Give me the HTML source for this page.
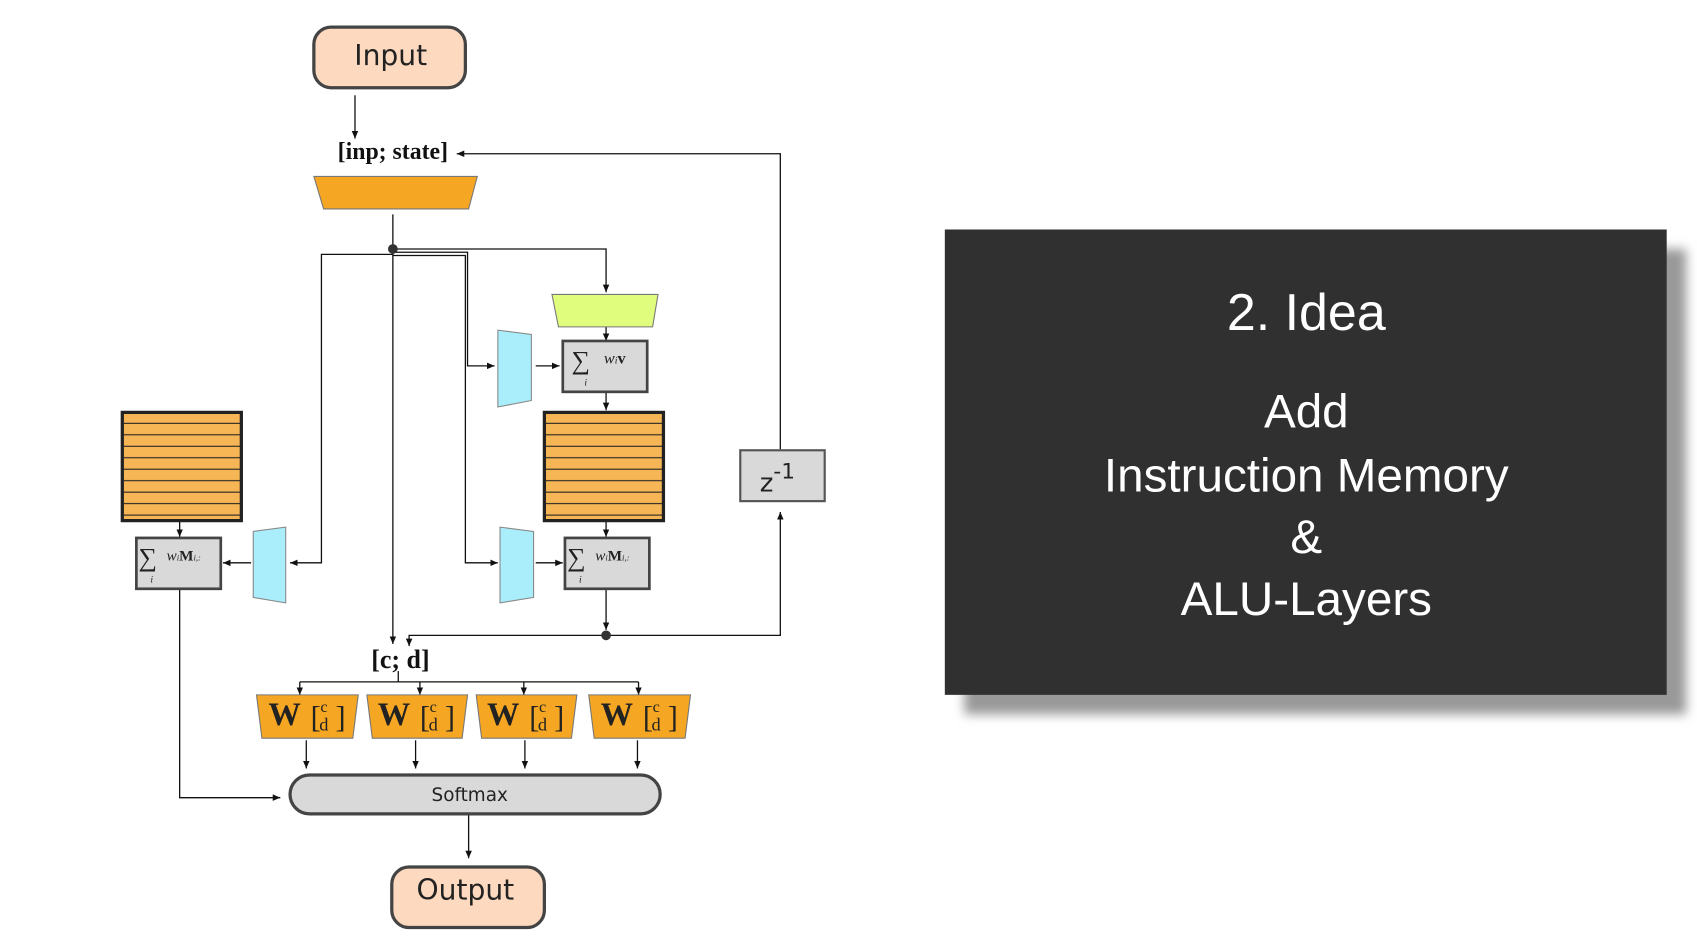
<!DOCTYPE html>
<html><head><meta charset="utf-8"><style>html,body{margin:0;padding:0;background:#fff;overflow:hidden}</style></head>
<body>
<svg width="1697" height="946" viewBox="0 0 1568 874" xmlns="http://www.w3.org/2000/svg">
<defs>
<marker id="a" markerWidth="8" markerHeight="8" refX="7" refY="4" orient="auto" markerUnits="userSpaceOnUse"><path d="M0,1 L7,4 L0,7 Z" fill="#111"/></marker>
<filter id="sh" x="-10%" y="-10%" width="130%" height="130%"><feGaussianBlur stdDeviation="5"/></filter>
<pattern id="st" width="10" height="10.6" patternUnits="userSpaceOnUse" y="381"><rect width="10" height="10.6" fill="#f7b655"/><rect y="9.6" width="10" height="1" fill="#222"/></pattern>
</defs>
<g stroke="#111" stroke-width="1.2" fill="none">
<line x1="328" y1="88" x2="328" y2="128" marker-end="url(#a)"/>
<polyline points="721,415 721,142 422,142" marker-end="url(#a)"/>
<line x1="363" y1="198" x2="363" y2="595" marker-end="url(#a)"/>
<polyline points="363,235 297,235 297,520 268,520" marker-end="url(#a)"/>
<polyline points="363,233 432,233 432,338 457,338" marker-end="url(#a)"/>
<polyline points="363,236 430,236 430,520 460,520" marker-end="url(#a)"/>
<polyline points="363,230 560,230 560,270" marker-end="url(#a)"/>
<line x1="560" y1="302" x2="560" y2="315" marker-end="url(#a)"/>
<line x1="495" y1="338" x2="517" y2="338" marker-end="url(#a)"/>
<line x1="560" y1="362" x2="560" y2="379" marker-end="url(#a)"/>
<line x1="560" y1="481" x2="560" y2="496" marker-end="url(#a)"/>
<line x1="166" y1="481" x2="166" y2="496" marker-end="url(#a)"/>
<line x1="232" y1="520" x2="206" y2="520" marker-end="url(#a)"/>
<line x1="495" y1="520" x2="520" y2="520" marker-end="url(#a)"/>
<line x1="560" y1="544" x2="560" y2="582" marker-end="url(#a)"/>
<polyline points="560,587 378,587 378,597" marker-end="url(#a)"/>
<polyline points="560,587 721,587 721,473" marker-end="url(#a)"/>
<polyline points="368,620 368,630"/>
<line x1="277" y1="630" x2="590" y2="630"/>
<line x1="277" y1="630" x2="277" y2="642" marker-end="url(#a)"/>
<line x1="388" y1="630" x2="388" y2="642" marker-end="url(#a)"/>
<line x1="484" y1="630" x2="484" y2="642" marker-end="url(#a)"/>
<line x1="590" y1="630" x2="590" y2="642" marker-end="url(#a)"/>
<line x1="283" y1="684" x2="283" y2="710" marker-end="url(#a)"/>
<line x1="384" y1="684" x2="384" y2="710" marker-end="url(#a)"/>
<line x1="485" y1="684" x2="485" y2="710" marker-end="url(#a)"/>
<line x1="589" y1="684" x2="589" y2="710" marker-end="url(#a)"/>
<polyline points="166,544 166,737 259,737" marker-end="url(#a)"/>
<line x1="433" y1="752" x2="433" y2="793" marker-end="url(#a)"/>
</g>
<circle cx="363" cy="230" r="4.5" fill="#333"/>
<circle cx="560" cy="587" r="4.5" fill="#333"/>
<rect x="290" y="25" width="140" height="56" rx="16" fill="#fdd9bf" stroke="#444" stroke-width="3"/>
<text x="361" y="60" font-family="DejaVu Sans, sans-serif" font-size="26" text-anchor="middle" fill="#222">Input</text>
<text x="363" y="147" font-family="Liberation Serif, serif" font-size="22" font-weight="bold" text-anchor="middle" fill="#111">[inp; state]</text>
<polygon points="290,163 441,163 433,193 299,193" fill="#f5a623" stroke="#777" stroke-width="1"/>
<polygon points="510,272 608,272 603,302 516,302" fill="#e1fd7d" stroke="#777" stroke-width="1"/>
<polygon points="460,305 491,309 491,370 460,376" fill="#aaeefc" stroke="#888" stroke-width="1"/>
<polygon points="234,491 264,487 264,557 234,552" fill="#aaeefc" stroke="#888" stroke-width="1"/>
<polygon points="462,487 493,491 493,552 462,557" fill="#aaeefc" stroke="#888" stroke-width="1"/>
<rect x="520" y="315" width="78" height="47" fill="#d9d9d9" stroke="#444" stroke-width="2.5"/>
<rect x="126" y="497" width="78" height="47" fill="#d9d9d9" stroke="#444" stroke-width="2.5"/>
<rect x="522" y="497" width="78" height="47" fill="#d9d9d9" stroke="#444" stroke-width="2.5"/>
<g font-family="Liberation Serif, serif" fill="#222">
<text x="528" y="341" font-size="24">∑</text><text x="540" y="356" font-size="9" font-style="italic">i</text><text x="558" y="336" font-size="15"><tspan font-style="italic">w</tspan><tspan font-size="9" font-style="italic">i</tspan><tspan font-weight="bold">v</tspan></text>
<text x="128" y="523" font-size="24">∑</text><text x="139" y="538" font-size="9" font-style="italic">i</text><text x="154" y="518" font-size="14"><tspan font-style="italic">w</tspan><tspan font-size="8" font-style="italic">i</tspan><tspan font-weight="bold">M</tspan><tspan font-size="8" font-style="italic">i,:</tspan></text>
<text x="524" y="523" font-size="24">∑</text><text x="535" y="538" font-size="9" font-style="italic">i</text><text x="550" y="518" font-size="14"><tspan font-style="italic">w</tspan><tspan font-size="8" font-style="italic">i</tspan><tspan font-weight="bold">M</tspan><tspan font-size="8" font-style="italic">i,:</tspan></text>
</g>
<rect x="113" y="381" width="110" height="100" fill="url(#st)" stroke="#222" stroke-width="3"/>
<rect x="503" y="381" width="110" height="100" fill="url(#st)" stroke="#222" stroke-width="3"/>
<rect x="684" y="416" width="78" height="47" fill="#d9d9d9" stroke="#555" stroke-width="2"/>
<text x="702" y="454" font-family="DejaVu Sans, sans-serif" font-size="24" fill="#222">z<tspan font-size="20" dy="-12">-1</tspan></text>
<text x="370" y="617" font-family="Liberation Serif, serif" font-size="24" font-weight="bold" text-anchor="middle" fill="#111">[c; d]</text>
<g font-family="Liberation Serif, serif" fill="#222">
<polygon points="237,642 331,642 326,682 242,682" fill="#f5a623" stroke="#777"/>
<polygon points="339,642 432,642 427,682 344,682" fill="#f5a623" stroke="#777"/>
<polygon points="440,642 533,642 528,682 445,682" fill="#f5a623" stroke="#777"/>
<polygon points="544,642 638,642 633,682 549,682" fill="#f5a623" stroke="#777"/>
<text x="248" y="670" font-size="30" font-weight="bold">W</text><text x="287" y="672" font-size="28">[</text><text x="296" y="658" font-size="15">c</text><text x="295" y="675" font-size="17">d</text><text x="310" y="672" font-size="28">]</text>
<text x="349" y="670" font-size="30" font-weight="bold">W</text><text x="388" y="672" font-size="28">[</text><text x="397" y="658" font-size="15">c</text><text x="396" y="675" font-size="17">d</text><text x="411" y="672" font-size="28">]</text>
<text x="450" y="670" font-size="30" font-weight="bold">W</text><text x="489" y="672" font-size="28">[</text><text x="498" y="658" font-size="15">c</text><text x="497" y="675" font-size="17">d</text><text x="512" y="672" font-size="28">]</text>
<text x="555" y="670" font-size="30" font-weight="bold">W</text><text x="594" y="672" font-size="28">[</text><text x="603" y="658" font-size="15">c</text><text x="602" y="675" font-size="17">d</text><text x="617" y="672" font-size="28">]</text>
</g>
<rect x="268" y="716" width="342" height="36" rx="18" fill="#d9d9d9" stroke="#444" stroke-width="3"/>
<text x="434" y="740" font-family="DejaVu Sans, sans-serif" font-size="17" text-anchor="middle" fill="#222">Softmax</text>
<rect x="362" y="801" width="141" height="56" rx="16" fill="#fdd9bf" stroke="#444" stroke-width="3"/>
<text x="430" y="831" font-family="DejaVu Sans, sans-serif" font-size="26" text-anchor="middle" fill="#222">Output</text>
<rect x="891" y="230" width="667" height="430" fill="#999" filter="url(#sh)"/>
<rect x="873" y="212" width="667" height="430" fill="#303030"/>
<g font-family="Liberation Sans, DejaVu Sans, sans-serif" fill="#fff" text-anchor="middle" font-size="44">
<text x="1207" y="305" font-size="48">2. Idea</text>
<text x="1207" y="395">Add</text>
<text x="1207" y="454">Instruction Memory</text>
<text x="1207" y="511">&amp;</text>
<text x="1207" y="568">ALU-Layers</text>
</g>
</svg>
</body></html>
